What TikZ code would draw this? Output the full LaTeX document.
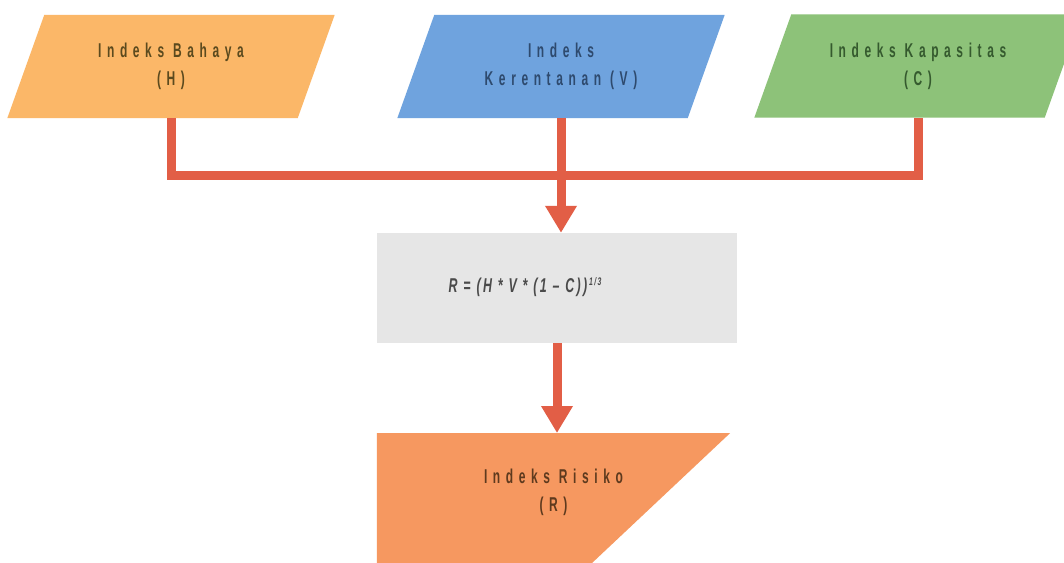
\documentclass[tikz,border=0pt]{standalone}
\usepackage{fontspec}
\setmainfont{Liberation Sans}
\newfontfamily\lblfont[FakeStretch=0.6, LetterSpace=28]{Liberation Sans}
\newfontfamily\frmfont[FakeStretch=0.62, LetterSpace=12]{Liberation Sans}
\usetikzlibrary{arrows.meta,backgrounds,calc}
\definecolor{fillH}{HTML}{FBB768}
\definecolor{fillV}{HTML}{6FA3DE}
\definecolor{fillC}{HTML}{8DC279}
\definecolor{fillR}{HTML}{F69860}
\definecolor{fillF}{HTML}{E6E6E6}
\definecolor{lineC}{HTML}{E25E46}
\definecolor{txtH}{HTML}{5B4A1E}
\definecolor{txtV}{HTML}{2E4A6E}
\definecolor{txtC}{HTML}{355A2E}
\definecolor{txtR}{HTML}{5E3A1E}
\definecolor{txtF}{HTML}{4A4A4A}
\begin{document}
\begin{tikzpicture}[x=1pt,y=-1pt,
  lbl/.style={font=\lblfont\bfseries\fontsize{20}{28}\selectfont, align=center, inner sep=0pt},
  pbox/.style={lbl, minimum width=290pt, minimum height=103pt},
  fbox/.style={font=\frmfont\bfseries\itshape\fontsize{20}{24}\selectfont, inner sep=0pt,
    minimum width=360pt, minimum height=110pt, text=txtF},
  rbox/.style={lbl, minimum width=353pt, minimum height=119pt, text=txtR},
  conn/.style={draw=lineC, line width=9pt, line join=miter},
  arr/.style={conn, -{Triangle[width=30pt,length=27pt]}}]
\useasboundingbox (0,0) rectangle (1064,562);
\node[pbox, text=txtH] (H) at (171,66.5) {Indeks Bahaya\\(H)};
\node[pbox, text=txtV] (V) at (561,66.5) {Indeks\\Kerentanan (V)};
\node[pbox, text=txtC] (C) at (918,66) {Indeks Kapasitas\\(C)};
\node[fbox] (F) at (557,288) {\raisebox{6pt}{R = (H * V * (1 – C))\raisebox{7pt}{\fontsize{11}{11}\selectfont\,1/3}}\kern64pt\relax};
\node[rbox, anchor=north] (R) at (553.5,433) {Indeks Risiko\\(R)};
\coordinate (J) at (561,175);
\begin{scope}[on background layer]
  \fill[white] (0,0) rectangle (1064,562);
  \foreach \n/\c in {H/fillH, V/fillV, C/fillC}{
    \fill[\c] ([xshift=18.5pt]\n.north west) -- ([xshift=18.5pt]\n.north east)
      -- ([xshift=-18.5pt]\n.south east) -- ([xshift=-18.5pt]\n.south west) -- cycle;
  }
  \fill[fillF] (F.north west) rectangle (F.south east);
  \coordinate (Rb) at ($(R.north east)+(-152,143)$);
  \fill[fillR] (R.north west) -- (R.north east) -- (Rb) -- (R.north west |- Rb) -- cycle;
\end{scope}
\draw[conn] (H.south) -- (H.south |- J) -- (C.south |- J) -- (C.south);
\draw[arr] (V.south) -- (V.south |- F.north);
\draw[arr] (F.south) -- (F.south |- R.north);
\end{tikzpicture}
\end{document}
